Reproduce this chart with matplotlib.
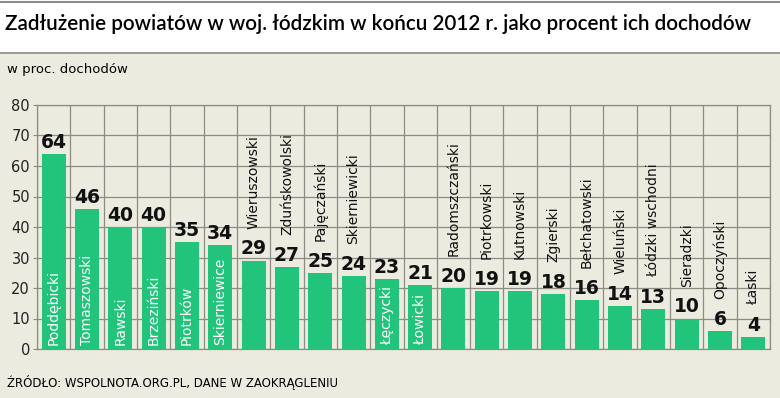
import matplotlib.pyplot as plt
import numpy as np
from matplotlib import font_manager

names = ["Poddębicki", "Tomaszowski", "Rawski", "Brzeziński", "Piotrków", "Skierniewice",
         "Wieruszowski", "Zduńskowolski", "Pajęczański", "Skierniewicki", "Łęczycki", "Łowicki",
         "Radomszczański", "Piotrkowski", "Kutnowski", "Zgierski", "Bełchatowski", "Wieluński",
         "Łódzki wschodni", "Sieradzki", "Opoczyński", "Łaski"]
values = [64, 46, 40, 40, 35, 34, 29, 27, 25, 24, 23, 21, 20, 19, 19, 18, 16, 14, 13, 10, 6, 4]
inside = [True] * 6 + [False] * 4 + [True, True] + [False] * 10
yticks = [0, 10, 20, 30, 40, 50, 60, 70, 80]

title = "Zadłużenie powiatów w woj. łódzkim w końcu 2012 r. jako procent ich dochodów"
unit = "w proc. dochodów"
source = "ŹRÓDŁO: WSPOLNOTA.ORG.PL, DANE W ZAOKRĄGLENIU"

bg = "#ecebdf"
bar_col = "#22c37a"
grid_col = "#8c8c84"
sans_families = ("DejaVu Sans", "Liberation Sans", "Noto Sans", "Roboto", "Open Sans", "Lato", "Inter")


def wnum(w):
    return w if isinstance(w, int) else font_manager.weight_dict.get(w, 400)


fig = plt.figure(figsize=(7.8, 3.98), dpi=100)
fig.patch.set_facecolor("white")

# beige panel below the title band
bgax = fig.add_axes([0, 0, 1, 1 - 53 / 398], zorder=0)
bgax.set_facecolor(bg)
bgax.set_xticks([])
bgax.set_yticks([])
for s in bgax.spines.values():
    s.set_visible(False)
fig.add_artist(plt.Line2D([0, 1], [1 - 53 / 398] * 2, color="#8a8a8a", lw=1.2))
fig.add_artist(plt.Line2D([0, 1], [1 - 1.5 / 398] * 2, color="#8a8a8a", lw=1.5))

# title: pick the bold sans face whose width at 15pt is closest to the reference width
t = fig.text(5 / 780, 1 - 24 / 398, title, va="center", ha="left")
renderer = fig.canvas.get_renderer()
best, best_err = None, None
for f in font_manager.fontManager.ttflist:
    if wnum(f.weight) < 600 or f.style != "normal":
        continue
    if not f.name.startswith(sans_families) or any(k in f.name for k in ("CJK", "Mono", "Serif")):
        continue
    fp = font_manager.FontProperties(fname=f.fname, size=15)
    t.set_fontproperties(fp)
    wd = t.get_window_extent(renderer).width
    if best is None or abs(wd - 747) < best_err:
        best, best_err = f.fname, abs(wd - 747)
fp = font_manager.FontProperties(fname=best, size=15)
t.set_fontproperties(fp)
wd = t.get_window_extent(renderer).width
t.set_fontsize(15 * 747 / wd)

fig.text(7 / 780, 1 - 69 / 398, unit, fontsize=9.5, va="center", ha="left")
fig.text(7 / 780, 1 - 383 / 398, source, fontsize=8.5, va="center", ha="left")

ax = fig.add_axes([37 / 780, 1 - 349 / 398, 733 / 780, 244 / 398], zorder=2)
ax.set_facecolor(bg)
x = np.arange(len(values))
ax.bar(x, values, width=0.72, color=bar_col, zorder=3)

ax.set_xlim(-0.5, len(values) - 0.5)
ax.set_ylim(0, 80)
ax.set_yticks(yticks)
ax.set_xticks([])
ax.set_xticks(np.arange(-0.5, len(values), 1), minor=True)
ax.tick_params(axis="x", which="both", length=0)
ax.tick_params(axis="y", length=3, color=grid_col, labelsize=10.5, labelcolor="#222222", pad=2)
ax.grid(axis="y", color=grid_col, lw=0.9, zorder=1)
ax.grid(axis="x", which="minor", color=grid_col, lw=0.9, zorder=1)
for s in ax.spines.values():
    s.set_color(grid_col)
    s.set_linewidth(0.9)

for xi, v, name, ins in zip(x, values, names, inside):
    ax.annotate(str(v), (xi, v), xytext=(0, 1.5), textcoords="offset points",
                ha="center", va="bottom", fontsize=13.5, fontweight="bold", color="#111111", zorder=4)
    if ins:
        ax.text(xi, 1.2, name, rotation=90, ha="center", va="bottom", fontsize=10,
                color="white", zorder=4)
    else:
        ax.annotate(name, (xi, v), xytext=(0, 23), textcoords="offset points", rotation=90,
                    ha="center", va="bottom", fontsize=10, color="#111111", zorder=4)

fig.savefig("out.png", dpi=100, facecolor=fig.get_facecolor())
